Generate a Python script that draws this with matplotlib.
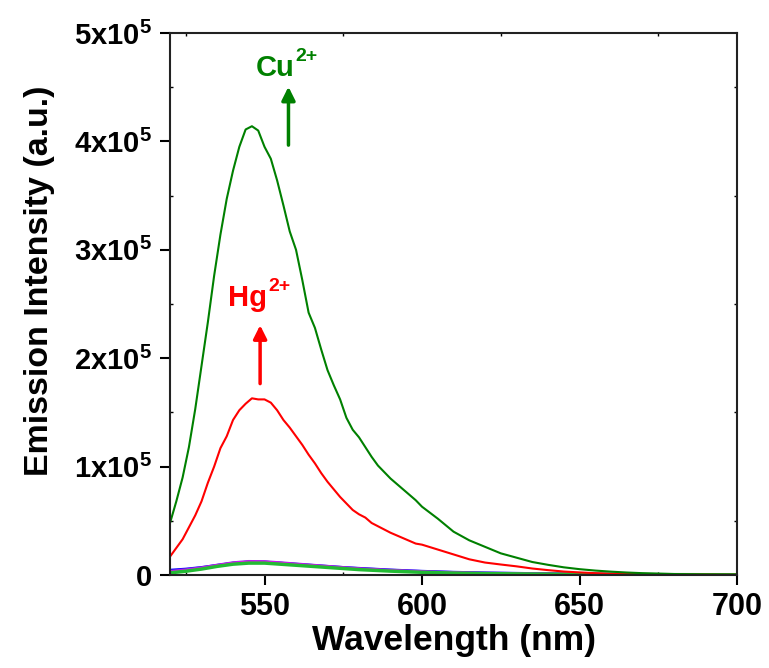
import numpy as np
import matplotlib
matplotlib.use('Agg')
import matplotlib.pyplot as plt
from matplotlib.ticker import MultipleLocator, FixedLocator

plt.rcParams['font.family'] = ['Liberation Sans', 'DejaVu Sans']
plt.rcParams['font.weight'] = 'bold'
plt.rcParams['mathtext.fontset'] = 'custom'
plt.rcParams['mathtext.rm'] = 'Liberation Sans:bold'
plt.rcParams['mathtext.bf'] = 'Liberation Sans:bold'
plt.rcParams['mathtext.it'] = 'Liberation Sans:bold'
plt.rcParams['mathtext.default'] = 'bf'

# wavelength grid (nm) for the two strong spectra
wl = [520, 522, 524, 526, 528, 530, 532, 534, 536, 538, 540, 542, 544, 546, 548,
      550, 552, 554, 556, 558, 560, 562, 564, 566, 568, 570, 572, 574, 576, 578,
      580, 582, 584, 586, 588, 590, 592, 594, 596, 598, 600,
      605, 610, 615, 620, 625, 630, 635, 640, 645, 650, 655, 660, 665, 670, 675,
      680, 685, 690, 695, 700]

# intensities in units of 1e5
cu = [0.48, 0.68, 0.90, 1.18, 1.53, 1.93, 2.33, 2.76, 3.14, 3.47, 3.73, 3.95, 4.11, 4.14, 4.10,
      3.95, 3.84, 3.64, 3.41, 3.17, 3.00, 2.72, 2.42, 2.28, 2.08, 1.89, 1.75, 1.62, 1.45, 1.34,
      1.27, 1.18, 1.09, 1.01, 0.95, 0.89, 0.84, 0.79, 0.74, 0.69, 0.63,
      0.52, 0.40, 0.32, 0.26, 0.20, 0.16, 0.12, 0.094, 0.071, 0.054, 0.041, 0.031, 0.023, 0.017, 0.013,
      0.009, 0.007, 0.005, 0.004, 0.003]

hg = [0.17, 0.25, 0.33, 0.44, 0.55, 0.68, 0.85, 1.00, 1.17, 1.28, 1.43, 1.52, 1.58, 1.63, 1.62,
      1.62, 1.59, 1.52, 1.43, 1.36, 1.28, 1.20, 1.11, 1.03, 0.94, 0.86, 0.79, 0.72, 0.66, 0.60,
      0.56, 0.53, 0.48, 0.45, 0.42, 0.39, 0.365, 0.34, 0.315, 0.29, 0.28,
      0.235, 0.19, 0.145, 0.115, 0.097, 0.08, 0.06, 0.045, 0.032, 0.024, 0.017, 0.012, 0.009, 0.007, 0.005,
      0.004, 0.003, 0.003, 0.002, 0.002]

# weak spectra (other ions)
wl_low = [520, 525, 530, 535, 540, 545, 550, 555, 560, 565, 570, 575, 580, 590, 600, 610, 620, 640, 660, 680, 700]
blue = [0.045, 0.055, 0.07, 0.09, 0.11, 0.12, 0.12, 0.11, 0.10, 0.09, 0.08, 0.07, 0.062, 0.047, 0.035, 0.026, 0.02, 0.012, 0.007, 0.004, 0.002]
violet = [0.035, 0.05, 0.068, 0.092, 0.114, 0.126, 0.124, 0.114, 0.103, 0.092, 0.081, 0.07, 0.06, 0.045, 0.033, 0.024, 0.018, 0.011, 0.006, 0.004, 0.002]
magenta = [0.03, 0.045, 0.065, 0.09, 0.112, 0.124, 0.123, 0.113, 0.10, 0.09, 0.079, 0.068, 0.058, 0.043, 0.031, 0.023, 0.017, 0.01, 0.006, 0.003, 0.002]
lgreen = [0.02, 0.035, 0.055, 0.08, 0.10, 0.11, 0.11, 0.10, 0.09, 0.08, 0.07, 0.06, 0.05, 0.036, 0.025, 0.018, 0.013, 0.008, 0.005, 0.003, 0.002]

ytick_vals = [0, 1, 2, 3, 4, 5]
ytick_labels = ['0'] + [r'%dx10$^{\mathregular{5}}$' % v for v in ytick_vals[1:]]
xtick_vals = [550, 600, 650, 700]

fig = plt.figure(figsize=(7.69, 6.68), dpi=100)
ax = fig.add_axes([0.2211, 0.1392, 0.7373, 0.8114])

scale = 1e5
ax.plot(wl_low, np.array(blue) * scale, color='#0000ff', lw=2)
ax.plot(wl_low, np.array(violet) * scale, color='#8a2be2', lw=2)
ax.plot(wl_low, np.array(magenta) * scale, color='#ff00ff', lw=1.5)
ax.plot(wl_low, np.array(lgreen) * scale, color='#22bb33', lw=2.5)
ax.plot(wl, np.array(hg) * scale, color='#ff0000', lw=1.5)
ax.plot(wl, np.array(cu) * scale, color='#008000', lw=1.5)

ax.set_xlim(520, 700)
ax.set_ylim(0, 5e5)
ax.xaxis.set_major_locator(FixedLocator(xtick_vals))
ax.xaxis.set_minor_locator(FixedLocator([525, 575, 625, 675]))
ax.yaxis.set_major_locator(FixedLocator([v * scale for v in ytick_vals]))
ax.yaxis.set_minor_locator(MultipleLocator(0.5e5))
ax.set_yticklabels(ytick_labels, fontsize=21, fontweight='bold')
ax.set_xticklabels([str(v) for v in xtick_vals], fontsize=22, fontweight='bold')

for s in ax.spines.values():
    s.set_linewidth(1.5)
    s.set_color('#222222')
ax.tick_params(which='major', direction='out', length=7, width=1.5,
               top=False, right=False)
ax.tick_params(axis='x', which='major', pad=5)
ax.tick_params(axis='y', which='major', pad=6)
ax.tick_params(which='minor', direction='in', length=2.5, width=1, top=True, right=True)

ax.set_xlabel('Wavelength (nm)', fontsize=25.5, fontweight='bold', labelpad=2)
ax.set_ylabel('Emission Intensity (a.u.)', fontsize=24.5, fontweight='bold')
ax.yaxis.set_label_coords(-0.203, 0.543)

# annotations with arrows
cu_txt = ax.text(547.1, 4.60e5, 'Cu', color='#008000', fontsize=21, fontweight='bold')
ax.annotate('2+', xy=(1.0, 0.62), xycoords=cu_txt, xytext=(1, 0), textcoords='offset points',
            color='#008000', fontsize=14, fontweight='bold', va='bottom', ha='left')
ax.annotate('', xy=(557.6, 4.53e5), xytext=(557.6, 3.94e5),
            arrowprops=dict(arrowstyle='-|>', color='#008000', lw=2.5, mutation_scale=20))
hg_txt = ax.text(538.3, 2.48e5, 'Hg', color='#ff0000', fontsize=21, fontweight='bold')
ax.annotate('2+', xy=(1.0, 0.62), xycoords=hg_txt, xytext=(1, 0), textcoords='offset points',
            color='#ff0000', fontsize=14, fontweight='bold', va='bottom', ha='left')
ax.annotate('', xy=(548.6, 2.33e5), xytext=(548.6, 1.74e5),
            arrowprops=dict(arrowstyle='-|>', color='#ff0000', lw=2.5, mutation_scale=20))

plt.savefig('out.png', dpi=100)
